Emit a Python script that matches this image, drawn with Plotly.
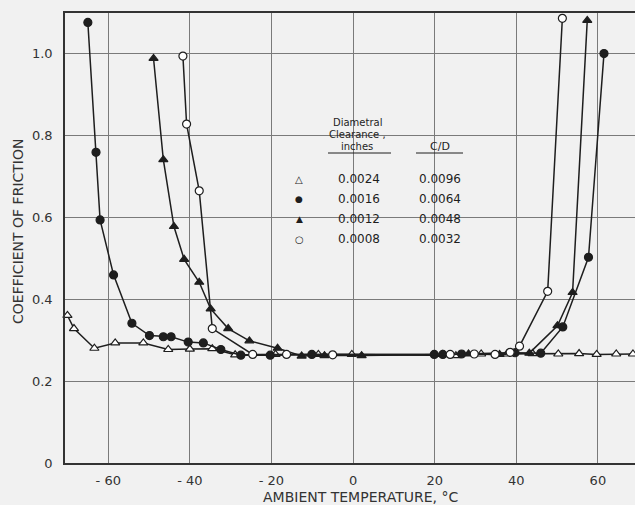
import plotly.graph_objects as go

# ---- data ----
tri_open_x = [-70, -68.4, -63.4, -58.3, -51.4, -45.3, -40, -34.5, -28.9, -19, -8.5, -0.3,
              25.2, 31.4, 37.7, 44, 50.3, 55.4, 59.7, 64.5, 68.6]
tri_open_y = [0.36, 0.328, 0.28, 0.293, 0.293, 0.277, 0.278, 0.279, 0.264, 0.265, 0.265, 0.265,
              0.262, 0.266, 0.266, 0.267, 0.266, 0.267, 0.265, 0.266, 0.266]

circ_fill_x = [-65.0, -63.0, -62.0, -58.7, -54.2, -49.9, -46.5, -44.6, -40.4, -36.7, -32.4, -27.5,
               -20.3, -10.1, 19.9, 22, 26.6, 39.7, 46, 51.4, 57.7, 61.5]
circ_fill_y = [1.075, 0.758, 0.593, 0.459, 0.341, 0.311, 0.308, 0.308, 0.295, 0.293, 0.277, 0.263,
               0.263, 0.265, 0.265, 0.265, 0.266, 0.269, 0.268, 0.332, 0.502, 0.999]

tri_fill_x = [-48.9, -46.5, -43.9, -41.4, -37.7, -34.9, -30.6, -25.4, -18.5, -12.6, -7.0, 2.1,
              22, 28.3, 35.9, 43.2, 50.1, 53.8, 57.4]
tri_fill_y = [0.987, 0.74, 0.577, 0.497, 0.441, 0.376, 0.328, 0.298, 0.28, 0.261, 0.262, 0.262,
              0.265, 0.266, 0.265, 0.268, 0.335, 0.416, 1.08]

circ_open_x = [-41.7, -40.8, -37.7, -34.5, -24.6, -16.3, -5.0, 23.8, 29.7, 34.8, 38.5, 40.8, 47.7, 51.3]
circ_open_y = [0.993, 0.827, 0.664, 0.328, 0.265, 0.265, 0.264, 0.265, 0.266, 0.265, 0.27, 0.285, 0.419, 1.085]

clearance = ["0.0024", "0.0016", "0.0012", "0.0008"]
c_over_d = ["0.0096", "0.0064", "0.0048", "0.0032"]
legend_glyphs = ["△", "●", "▲", "○"]
header_lines = ["Diametral", "Clearance ,", "inches"]

x_ticks = [-60, -40, -20, 0, 20, 40, 60]
x_ticktext = ["- 60", "- 40", "- 20", "0", "20", "40", "60"]
y_ticks = [0, 0.2, 0.4, 0.6, 0.8, 1.0]
y_ticktext = ["0", "0.2", "0.4", "0.6", "0.8", "1.0"]

BG = "#f1f1f1"
INK = "#1e1e1e"
FONT = "DejaVu Sans"

fig = go.Figure()

def add_series(x, y, symbol, fill):
    fig.add_trace(go.Scatter(
        x=x, y=y, mode="lines+markers", cliponaxis=False, showlegend=False,
        line=dict(color=INK, width=1.5),
        marker=dict(symbol=symbol, size=8, color=fill, line=dict(color=INK, width=1.2)),
    ))

add_series(tri_open_x, tri_open_y, "triangle-up", "white")
add_series(tri_fill_x, tri_fill_y, "triangle-up", INK)
add_series(circ_fill_x, circ_fill_y, "circle", INK)
add_series(circ_open_x, circ_open_y, "circle", "white")

def px_x(p):
    return (p - 65) / 570

def px_y(p):
    return (463 - p) / 450

# legend box area (covers grid lines)
fig.add_shape(type="rect", xref="paper", yref="paper",
              x0=px_x(274), x1=px_x(473), y0=px_y(260), y1=px_y(107),
              fillcolor=BG, line=dict(width=0), layer="between")

ann = []
def add_text(x, y, text, size, color=INK, **kw):
    ann.append(dict(x=px_x(x), y=px_y(y), xref="paper", yref="paper", text=text,
                    xanchor="center", yanchor="middle",
                    showarrow=False, font=dict(family=FONT, size=size, color=color), **kw))

for line_txt, yy in zip(header_lines, [122, 134, 146]):
    add_text(357, yy, line_txt, 10)
add_text(440, 146, "C/D", 11)
rows_y = [179, 199, 219, 239]
for g, c, r, yy in zip(legend_glyphs, clearance, c_over_d, rows_y):
    add_text(299, yy, g, 10 if g in "△○" else 9)
    add_text(359, yy, c, 12)
    add_text(440, yy, r, 12)
# underlines
fig.add_shape(type="line", xref="paper", yref="paper", x0=px_x(328), x1=px_x(391),
              y0=px_y(153), y1=px_y(153), line=dict(color=INK, width=1))
fig.add_shape(type="line", xref="paper", yref="paper", x0=px_x(416), x1=px_x(463),
              y0=px_y(153), y1=px_y(153), line=dict(color=INK, width=1))

# axis titles
add_text(360, 497, "AMBIENT TEMPERATURE, °C", 14, color="#333")
add_text(18, 232, "COEFFICIENT OF FRICTION", 14, color="#333", textangle=-90)

fig.update_layout(
    width=635, height=505,
    margin=dict(l=65, r=0, t=13, b=42),
    paper_bgcolor=BG, plot_bgcolor=BG,
    annotations=ann,
    font=dict(family=FONT, color="#333"),
)
fig.update_xaxes(range=[-70.6, 69.1], tickvals=x_ticks, ticktext=x_ticktext,
                 showgrid=True, gridcolor="#7a7a7a", gridwidth=1, zeroline=False,
                 showline=True, linecolor="#333", linewidth=1.5, mirror=True,
                 ticks="", ticklabelstandoff=5,
                 tickfont=dict(size=13, family=FONT, color="#333"))
fig.update_yaxes(range=[0, 1.098], tickvals=y_ticks, ticktext=y_ticktext,
                 showgrid=True, gridcolor="#7a7a7a", gridwidth=1, zeroline=False,
                 showline=True, linecolor="#333", linewidth=1.5,
                 ticks="", ticklabelstandoff=8,
                 tickfont=dict(size=13, family=FONT, color="#333"))

fig.write_html("out.html", config={"displayModeBar": False},
               post_script="document.body.style.margin='0px';")
